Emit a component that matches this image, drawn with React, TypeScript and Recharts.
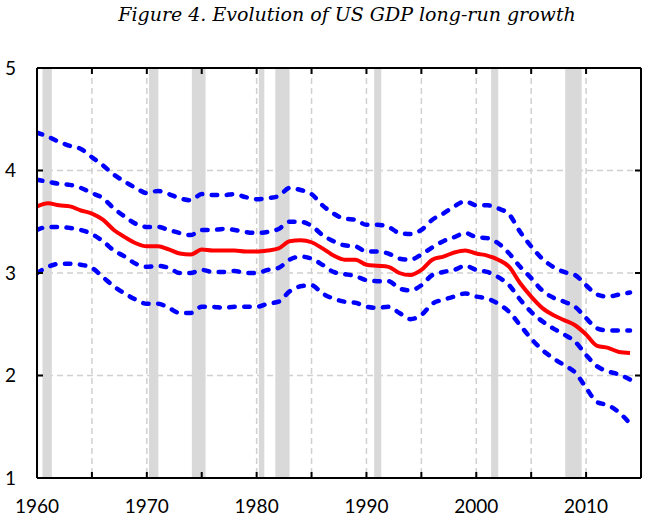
import React from 'react';
import {
  LineChart,
  Line,
  XAxis,
  YAxis,
  CartesianGrid,
  ReferenceArea,
} from 'recharts';

// years 1960..2014, one value per year
const years = Array.from({ length: 55 }, (_, i) => 1960 + i);

const upper90 = [
  4.37, 4.33, 4.28, 4.24, 4.21, 4.13, 4.05, 3.96, 3.89, 3.83,
  3.78, 3.80, 3.77, 3.73, 3.71, 3.77, 3.76, 3.76, 3.77, 3.74,
  3.72, 3.73, 3.75, 3.83, 3.81, 3.77, 3.66, 3.58, 3.53, 3.52,
  3.47, 3.47, 3.45, 3.39, 3.38, 3.42, 3.52, 3.58, 3.65, 3.70,
  3.66, 3.66, 3.63, 3.57, 3.40, 3.26, 3.14, 3.06, 3.01, 2.98,
  2.88, 2.79, 2.77, 2.79, 2.81,
];
const upper68 = [
  3.91, 3.89, 3.87, 3.86, 3.83, 3.78, 3.73, 3.63, 3.55, 3.48,
  3.45, 3.45, 3.42, 3.39, 3.37, 3.42, 3.42, 3.43, 3.42, 3.40,
  3.39, 3.40, 3.43, 3.50, 3.50, 3.46, 3.37, 3.31, 3.27, 3.26,
  3.21, 3.21, 3.19, 3.14, 3.13, 3.18, 3.25, 3.31, 3.35, 3.39,
  3.35, 3.34, 3.29, 3.19, 3.06, 2.95, 2.83, 2.76, 2.72, 2.67,
  2.56, 2.46, 2.44, 2.44, 2.44,
];
const median = [
  3.65, 3.68, 3.66, 3.65, 3.61, 3.58, 3.52, 3.42, 3.35, 3.29,
  3.26, 3.26, 3.23, 3.19, 3.18, 3.23, 3.22, 3.22, 3.22, 3.21,
  3.21, 3.22, 3.24, 3.31, 3.32, 3.30, 3.24, 3.17, 3.13, 3.13,
  3.08, 3.07, 3.06, 3.00, 2.98, 3.03, 3.13, 3.16, 3.20, 3.22,
  3.19, 3.17, 3.13, 3.06, 2.90, 2.77, 2.66, 2.59, 2.54, 2.49,
  2.40, 2.29, 2.27, 2.23, 2.22,
];
const lower68 = [
  3.42, 3.45, 3.45, 3.44, 3.42, 3.38, 3.31, 3.22, 3.16, 3.09,
  3.06, 3.07, 3.05, 3.00, 3.00, 3.03, 3.01, 3.01, 3.02, 3.00,
  3.00, 3.03, 3.05, 3.13, 3.16, 3.14, 3.08, 3.01, 2.99, 2.97,
  2.93, 2.92, 2.92, 2.85, 2.83, 2.88, 2.98, 3.01, 3.03, 3.07,
  3.03, 3.01, 2.96, 2.88, 2.74, 2.62, 2.53, 2.46, 2.40, 2.33,
  2.20, 2.09, 2.04, 2.01, 1.96,
];
const lower90 = [
  3.00, 3.06, 3.09, 3.09, 3.08, 3.05, 2.96, 2.87, 2.80, 2.74,
  2.70, 2.70, 2.66, 2.61, 2.61, 2.67, 2.67, 2.66, 2.67, 2.67,
  2.67, 2.70, 2.72, 2.82, 2.87, 2.88, 2.80, 2.75, 2.72, 2.71,
  2.67, 2.66, 2.67, 2.61, 2.55, 2.59, 2.70, 2.74, 2.77, 2.80,
  2.77, 2.75, 2.70, 2.62, 2.49, 2.36, 2.25, 2.17, 2.10, 2.03,
  1.88, 1.74, 1.71, 1.64, 1.53,
];

// recession shading (start, end)
const recessionStart = [1960.5, 1970.2, 1974.1, 1980.2, 1981.7, 1990.7, 2001.35, 2008.1];
const recessionEnd = [1961.35, 1971.05, 1975.35, 1980.7, 1983.0, 1991.35, 2002.0, 2009.6];

const xDomain = [1960, 2015];
const yDomain = [1, 5];
const xTicks = [1960, 1965, 1970, 1975, 1980, 1985, 1990, 1995, 2000, 2005, 2010];
const yTicks = [1, 2, 3, 4, 5];

const rows = years.map((year, i) => ({
  year,
  upper90: upper90[i],
  upper68: upper68[i],
  median: median[i],
  lower68: lower68[i],
  lower90: lower90[i],
}));

const LABEL_FONT = 'Lato, "Open Sans", sans-serif';
const TICK_LEN = 6;
const Y_LABEL_GAP = 21;

// ticks all point into the plot, like the original
const BottomTick = (props: any) => {
  const { x, y, payload } = props;
  const v = payload.value;
  return (
    <g>
      <line x1={x} x2={x} y1={y} y2={y - TICK_LEN} stroke="#000" strokeWidth={2} />
      {v % 10 === 0 && (
        <text x={x} y={y + 35} textAnchor="middle" fontSize={19} fontFamily={LABEL_FONT} fill="#000">
          {v}
        </text>
      )}
    </g>
  );
};

const TopTick = (props: any) => {
  const { x, y } = props;
  return <line x1={x} x2={x} y1={y} y2={y + TICK_LEN} stroke="#000" strokeWidth={2} />;
};

const LeftTick = (props: any) => {
  const { x, y, payload } = props;
  const ax = x + Y_LABEL_GAP;
  return (
    <g>
      <line x1={ax} x2={ax + TICK_LEN} y1={y} y2={y} stroke="#000" strokeWidth={2} />
      <text x={x} y={y} dy="0.36em" textAnchor="end" fontSize={19} fontFamily={LABEL_FONT} fill="#000">
        {payload.value}
      </text>
    </g>
  );
};

const RightTick = (props: any) => {
  const { x, y } = props;
  return <line x1={x} x2={x - TICK_LEN} y1={y} y2={y} stroke="#000" strokeWidth={2} />;
};

const bandStyle = {
  stroke: '#0000ff',
  strokeWidth: 4.5,
  strokeDasharray: '5.5 9.5',
  strokeLinecap: 'round' as const,
};

export default function App() {
  return (
    <div style={{ position: 'absolute', left: 0, top: 0, width: 650, height: 523, background: '#fff' }}>
      <div
        style={{
          position: 'absolute',
          left: 0,
          top: 3,
          width: 694,
          textAlign: 'center',
          fontFamily: '"DejaVu Serif", serif',
          fontStyle: 'italic',
          fontSize: 19,
          color: '#000',
        }}
      >
        Figure 4. Evolution of US GDP long-run growth
      </div>
      <LineChart width={650} height={523} data={rows} margin={{ top: 67, right: 8, bottom: 0, left: 0 }}>
        <CartesianGrid stroke="#d0d0d0" strokeWidth={1.5} strokeDasharray="6 4" />
        {recessionStart.map((s, i) => (
          <ReferenceArea key={`rec-${i}`} x1={s} x2={recessionEnd[i]} y1={1} y2={5} fill="#d9d9d9" fillOpacity={1} stroke="none" />
        ))}
        <XAxis
          dataKey="year"
          type="number"
          domain={xDomain}
          ticks={xTicks}
          interval={0}
          height={45}
          tickSize={0}
          tickMargin={0}
          tick={<BottomTick />}
          axisLine={{ stroke: '#000', strokeWidth: 2 }}
          allowDataOverflow
        />
        <XAxis
          xAxisId="top"
          orientation="top"
          dataKey="year"
          type="number"
          domain={xDomain}
          ticks={xTicks}
          interval={0}
          height={1}
          tickSize={0}
          tickMargin={0}
          tick={<TopTick />}
          axisLine={{ stroke: '#000', strokeWidth: 2 }}
          allowDataOverflow
        />
        <YAxis
          type="number"
          domain={yDomain}
          ticks={yTicks}
          interval={0}
          width={37}
          tickSize={0}
          tickMargin={Y_LABEL_GAP}
          tick={<LeftTick />}
          axisLine={{ stroke: '#000', strokeWidth: 2 }}
          allowDataOverflow
        />
        <YAxis
          yAxisId="right"
          orientation="right"
          type="number"
          domain={yDomain}
          ticks={yTicks}
          interval={0}
          width={1}
          tickSize={0}
          tickMargin={0}
          tick={<RightTick />}
          axisLine={{ stroke: '#000', strokeWidth: 2 }}
          allowDataOverflow
        />
        <Line type="monotone" dataKey="upper90" dot={false} {...bandStyle} isAnimationActive={false} />
        <Line type="monotone" dataKey="upper68" dot={false} {...bandStyle} isAnimationActive={false} />
        <Line type="monotone" dataKey="lower68" dot={false} {...bandStyle} isAnimationActive={false} />
        <Line type="monotone" dataKey="lower90" dot={false} {...bandStyle} isAnimationActive={false} />
        <Line type="monotone" dataKey="median" dot={false} stroke="#ff0000" strokeWidth={4} isAnimationActive={false} />
      </LineChart>
    </div>
  );
}
